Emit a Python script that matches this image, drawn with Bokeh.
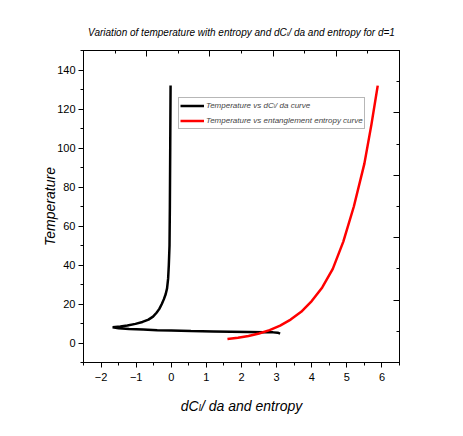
from bokeh.plotting import figure
from bokeh.models import Range1d, LinearAxis, FixedTicker, Legend, LegendItem, Title
from bokeh.embed import file_html
from bokeh.resources import INLINE

# Black curve: dC_l/da vs Temperature
dc_x = [-0.02, -0.03, -0.04, -0.05, -0.07, -0.09, -0.12, -0.16, -0.21, -0.27, -0.34, -0.42, -0.52, -0.65,
        -0.82, -1.02, -1.25, -1.45, -1.67,
        -1.50, -1.20, -0.80, -0.40, 0.00, 0.56, 1.20, 1.70, 2.20, 2.64, 2.90, 3.03, 3.10]
dc_t = [132, 100, 70, 50, 40, 33, 28, 25, 22.5, 20, 17.5, 15.5, 13.5, 12,
        10.8, 9.8, 9.0, 8.5, 8.1,
        7.55, 7.2, 6.9, 6.6, 6.4, 6.1, 5.95, 5.8, 5.65, 5.5, 5.45, 5.3, 4.8]

# Red curve: entanglement entropy vs Temperature
ent_x = [1.60, 1.90, 2.20, 2.50, 2.80, 3.10, 3.40, 3.70, 4.00, 4.30, 4.60, 4.90, 5.20, 5.50, 5.70, 5.88]
ent_t = [2.0, 2.7, 3.6, 4.9, 6.6, 8.9, 12, 16, 21.5, 28.5, 38, 52, 70, 92, 112, 132]

x_ticks = [-2, -1, 0, 1, 2, 3, 4, 5, 6]
y_ticks = [0, 20, 40, 60, 80, 100, 120, 140]
top_ticks = [-2.5 + 1.8 * i for i in range(6)]
right_ticks = [-10 + 32 * i for i in range(6)]

FONT = "Liberation Sans, DejaVu Sans"

p = figure(frame_width=316, frame_height=312, min_border_left=83, min_border_top=50,
           min_border_right=30, min_border_bottom=66,
           x_range=Range1d(-2.5, 6.5), y_range=Range1d(-10, 150),
           output_backend="svg", toolbar_location=None, title=None)
p.grid.visible = False
p.outline_line_color = "black"
p.outline_line_width = 1
p.background_fill_color = "white"
p.border_fill_color = "white"

xa = p.xaxis[0]
xa.ticker = FixedTicker(ticks=x_ticks, minor_ticks=[-2.5 + 0.5 * i for i in range(19)])
xa.axis_label = "dCₗ/ da and entropy"
ya = p.yaxis[0]
ya.ticker = FixedTicker(ticks=y_ticks, minor_ticks=[-10 + 10 * i for i in range(17)])
ya.axis_label = "Temperature"
for ax in (xa, ya):
    ax.axis_line_color = "black"
    ax.major_tick_line_color = "black"
    ax.minor_tick_line_color = "black"
    ax.major_tick_out = 5
    ax.major_tick_in = 0
    ax.minor_tick_out = 3
    ax.minor_tick_in = 0
    ax.major_label_text_font = FONT
    ax.major_label_text_font_size = "11px"
    ax.major_label_text_color = "black"
    ax.axis_label_text_font = FONT
    ax.axis_label_text_font_style = "italic"
    ax.axis_label_text_font_size = "14px"
    ax.axis_label_text_color = "black"
xa.major_label_standoff = 5
xa.axis_label_standoff = 14
ya.major_label_standoff = 3
ya.axis_label_standoff = -4

top = LinearAxis(ticker=FixedTicker(ticks=top_ticks,
                                    minor_ticks=[-1.6 + 1.8 * i for i in range(5)]),
                 major_label_overrides={t: "" for t in top_ticks})
right = LinearAxis(ticker=FixedTicker(ticks=right_ticks,
                                      minor_ticks=[6 + 32 * i for i in range(5)]),
                   major_label_overrides={t: "" for t in right_ticks})
for ax in (top, right):
    ax.major_tick_in = 6
    ax.major_tick_out = 0
    ax.minor_tick_in = 3
    ax.minor_tick_out = 0
    ax.axis_line_color = "black"
    ax.major_label_standoff = 0
p.add_layout(top, "above")
p.add_layout(right, "right")

r1 = p.line(dc_x, dc_t, line_color="black", line_width=2.5)
r2 = p.line(ent_x, ent_t, line_color="red", line_width=2.5)

legend = Legend(items=[LegendItem(label="Temperature vs dCₗ/ da curve", renderers=[r1]),
                       LegendItem(label="Temperature vs entanglement entropy curve", renderers=[r2])],
                location=(95, 233), orientation="vertical",
                label_text_font=FONT, label_text_font_style="italic", label_text_font_size="8px",
                glyph_width=24, glyph_height=13, label_height=13, label_standoff=2,
                spacing=2, padding=1, margin=0,
                border_line_color="#707070", border_line_width=1,
                background_fill_color="white", background_fill_alpha=1)
p.add_layout(legend, "center")

title = Title(text="Variation of temperature with entropy and dCₗ/ da and entropy for d=1",
              text_font=FONT, text_font_style="italic", text_font_size="10px",
              align="center", text_color="black", standoff=26)
p.add_layout(title, "above")

open("out.html", "w").write(file_html(p, INLINE))
